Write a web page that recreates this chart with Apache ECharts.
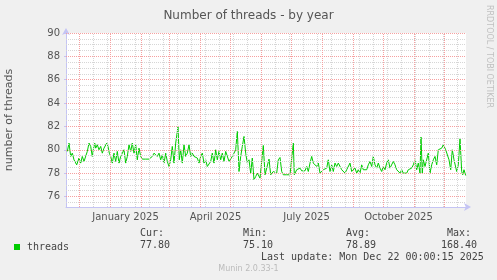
<!DOCTYPE html>
<html><head><meta charset="utf-8">
<script src="https://cdn.jsdelivr.net/npm/echarts@6.0.0/dist/echarts.min.js"></script>
<style>html,body{margin:0;padding:0;background:#f0f0f0}#c{width:497px;height:280px}</style>
</head><body><div id="c"></div>
<script>
// ---- data (days since left edge of the graph = 2024-11-17 12:00 UTC) ----
const days = [
1.3,3,4.7,6.3,8,10.7,13,14.7,16.3,18,
19.7,21.3,23,24.7,26.3,27.3,28.7,29.7,31.3,33,
34.7,36.3,38,40.7,42,43.3,44.7,46.3,48,49.7,
51.3,53,54.7,56.3,58,59.7,61.3,63,64.7,66.3,
68,69.7,71.3,73,74.7,76.3,78,79.7,81.3,83,
84.7,86.3,88,89.7,91.3,93,94.7,96.3,98,99.7,
101.3,103,104.7,106.3,108,109.7,112,113.3,114.7,116.3,
118,119.7,121.3,123,124.7,126.3,128,129.7,131.3,133,
134.7,136.3,138,139.7,141.3,143,144.7,146.3,148,149.7,
151.3,153,154.7,156.3,158,159.7,161.3,163,164.7,166.3,
168,169.7,171.3,172.3,173,174.7,176.3,178,179.7,181.3,
183,184.7,186.3,188,189.7,191.3,
194,197.3,199,200.7,203,204.7,207.3,209,210.7,212.3,
214,215.7,217.3,219,220.7,222.3,224,225.7,227.3,228.3,
230.7,232.3,234,235.7,237.3,239,240.7,242.3,244,245.7,
247.3,249,250.7,252.3,254,255.7,257.3,259,260.7,262.3,
264,265.7,267.3,269,270.7,272.3,274,275.7,277.3,279,
280.7,282.3,284,285.7,287.3,289,290.7,292.3,294,295.7,
297.3,299,300.7,302.3,304,305.7,307.3,309,310.7,312.3,
314,315.7,317.3,319,320.7,322.3,324,325.7,327.3,329,
330.7,332.3,334,335.7,337.3,339,340.7,342.3,344,345.7,
347.3,349,350.7,352.3,354,355,356.3,357.3,359,360.7,
362.3,364,365.7,367.3,369,370.7,372.3,374,375.7,377.3,
378.3,379.7,381.3,383,384.7,386.3,388,390.7,392.3,394,
395.7,396.7,398,399.7
];
const threads = [
79.86,80.57,79.43,79.71,79.14,78.71,79.29,78.86,79.43,79.0,
78.86,79.86,80.57,80.29,79.43,80.0,80.57,80.14,80.43,80.0,
80.29,79.71,80.14,80.57,80.29,79.71,79.43,78.86,79.71,79.0,
79.86,78.86,79.43,79.29,80.0,78.86,79.43,80.43,79.86,80.57,
79.71,80.43,79.14,80.14,79.43,79.2,79.29,79.2,79.29,79.2,
79.37,79.43,79.71,79.86,79.43,79.71,79.14,79.57,78.86,79.71,
79.0,78.57,79.14,80.29,78.86,80.57,82.0,79.14,80.0,78.86,
80.43,79.43,79.71,80.43,79.43,79.71,79.43,79.57,79.29,78.86,
79.43,79.71,78.86,79.14,78.57,78.43,79.0,79.71,78.86,80.0,
79.14,79.86,79.14,79.71,79.0,79.86,79.71,79.0,78.86,79.43,
79.71,80.0,81.57,79.71,78.14,79.43,80.29,81.14,79.71,78.86,
79.14,78.0,79.29,77.43,77.71,78.0,
77.57,80.37,77.86,77.71,79.2,77.86,78.14,78.29,78.0,79.14,
79.34,78.14,77.86,78.0,77.86,77.71,77.86,77.86,80.57,77.86,
78.29,78.14,78.43,78.2,78.34,78.2,78.57,78.14,78.86,79.43,
78.86,78.71,78.57,78.86,78.0,78.14,78.29,78.14,78.43,79.14,
78.14,78.71,78.14,78.86,78.57,78.86,79.0,78.29,78.14,78.0,
78.29,78.14,78.86,78.14,78.0,78.43,78.0,78.29,78.0,78.71,
78.29,78.14,78.29,78.71,79.0,78.57,79.43,78.71,78.43,78.86,
78.43,78.14,78.57,78.29,78.86,79.14,78.43,78.29,79.0,78.71,
78.29,78.43,78.0,78.29,78.0,78.14,78.0,78.29,78.14,78.43,
78.71,79.14,78.29,78.86,78.0,81.09,78.0,79.14,78.57,78.43,
79.71,78.0,78.71,79.14,79.43,78.71,80.0,80.09,80.14,80.43,
80.57,80.0,80.14,79.14,78.29,80.0,79.14,78.14,78.71,80.94,
78.14,77.86,78.29,77.8
];
const yMin = 75.1, yMax = 90;
const yMajorStep = 2, yMinorStep = 0.5;
const xLabelTexts = ['January 2025', 'April 2025', 'July 2025', 'October 2025'];
const xLabelDates = [[2025,0,16], [2025,3,16], [2025,6,16], [2025,9,16]];
const seriesName = 'threads';
const statHeads = ['Cur:', 'Min:', 'Avg:', 'Max:'];
const statValues = ['77.80', '75.10', '78.89', '168.40'];
const lastUpdate = 'Last update: Mon Dec 22 00:00:15 2025';
const titleText = 'Number of threads - by year';
const yName = 'number of threads';
const sideText = 'RRDTOOL / TOBI OETIKER';
const footer = 'Munin 2.0.33-1';

// ---- build ----
const DAY = 86400000;
const START = Date.UTC(2024, 10, 17, 12);
const END = START + 400 * DAY;
const points = days.map((d, i) => [START + d * DAY, threads[i]]);

const RED = '#f6a0a0';
const GRAY = '#d6d6d6';
const dash = [1, 1];
const grayLines = [], redLines = [];
for (let v = 75 + yMinorStep; v <= yMax; v += yMinorStep) {
  if (v % yMajorStep !== 0) grayLines.push({ yAxis: v });
}
for (let t = Date.UTC(2024, 11, 1); t < END; t += 14 * DAY) grayLines.push({ xAxis: t });
for (let v = 76; v <= yMax; v += yMajorStep) redLines.push({ yAxis: v });
for (let m = 0; m < 13; m++) redLines.push({ xAxis: Date.UTC(2024, 11 + m, 1) });
const labelLines = xLabelDates.map((d, i) => ({
  xAxis: Date.UTC(d[0], d[1], d[2]),
  label: { formatter: xLabelTexts[i] }
}));

const AX = '#c4c4f4';
const MONO = 'DejaVu Sans Mono';
const monoFont = '10px "' + MONO + '"';
const headX = [140, 243, 346, 447];
const valX = [140, 243, 346, 441];
const graphics = [];
statHeads.forEach((h, i) => graphics.push({ type: 'text', left: headX[i], top: 228,
  style: { text: h, font: monoFont, fill: '#444' } }));
statValues.forEach((v, i) => graphics.push({ type: 'text', left: valX[i], top: 240,
  style: { text: v, font: monoFont, fill: '#444' } }));
graphics.push({ type: 'text', left: 261, top: 252, style: { text: lastUpdate, font: monoFont, fill: '#444' } });
graphics.push({ type: 'text', x: 485, y: 5, rotation: -Math.PI / 2,
  style: { text: sideText, font: '8px "DejaVu Sans"', fill: '#c0c0c0', textVerticalAlign: 'bottom' } });
graphics.push({ type: 'text', left: 'center', top: 265, style: { text: footer, font: '8px "DejaVu Sans"', fill: '#bbb' } });

function markSeries(name, lines, color, z) {
  return { type: 'line', name: name, data: [], z: z, silent: true,
    markLine: { silent: true, symbol: ['none', 'none'], label: { show: false }, animation: false,
      lineStyle: { color: color, type: dash, width: 1, opacity: 1 },
      emphasis: { disabled: true }, data: lines } };
}

const chart = echarts.init(document.getElementById('c'), null, { renderer: 'canvas' });
chart.setOption({
  animation: false,
  backgroundColor: '#f0f0f0',
  title: { text: titleText, left: 'center', top: 5,
    textStyle: { fontSize: 12, fontWeight: 'normal', color: '#555', fontFamily: 'DejaVu Sans' } },
  legend: { data: [seriesName], left: 9, top: 237, icon: 'rect', itemWidth: 6, itemHeight: 6,
    textStyle: { fontFamily: MONO, fontSize: 10, color: '#444', padding: [0, 0, 0, 2] } },
  grid: { left: 66, top: 33, width: 400, height: 174, show: true, backgroundColor: '#fff', borderWidth: 0,
    outerBoundsMode: 'none' },
  xAxis: {
    type: 'time', min: START, max: END,
    axisLine: { lineStyle: { color: AX }, symbol: ['none', 'arrow'], symbolSize: [6, 7], symbolOffset: [0, 5] },
    axisTick: { show: false }, axisLabel: { show: false }, splitLine: { show: false }
  },
  yAxis: {
    type: 'value', min: yMin, max: yMax, splitNumber: 7, minInterval: 2, maxInterval: 2,
    name: yName, nameLocation: 'middle', nameRotate: 90, nameGap: 51,
    nameTextStyle: { fontSize: 11, color: '#555', fontFamily: 'DejaVu Sans' },
    axisLine: { show: true, lineStyle: { color: AX }, symbol: ['none', 'arrow'], symbolSize: [6, 7], symbolOffset: [0, 5] },
    axisTick: { show: true, length: 2, lineStyle: { color: AX } },
    axisLabel: { color: '#555', fontSize: 10, fontFamily: 'DejaVu Sans', margin: 6, showMinLabel: false },
    splitLine: { show: false }
  },
  series: [
    markSeries('minor', grayLines, GRAY, 1),
    markSeries('major', redLines, RED, 2),
    { type: 'line', name: 'xlabels', data: [], z: 2, silent: true,
      markLine: { silent: true, symbol: ['none', 'none'], animation: false,
        lineStyle: { color: 'rgba(0,0,0,0)', width: 0 },
        label: { show: true, position: 'start', distance: 5, color: '#555', fontSize: 10, fontFamily: 'DejaVu Sans' },
        emphasis: { disabled: true }, data: labelLines } },
    { type: 'line', name: seriesName, data: points, z: 3, showSymbol: false, symbol: 'none',
      itemStyle: { color: '#00cc00' }, lineStyle: { color: '#00cc00', width: 1 } }
  ],
  graphic: graphics
});
</script></body></html>
